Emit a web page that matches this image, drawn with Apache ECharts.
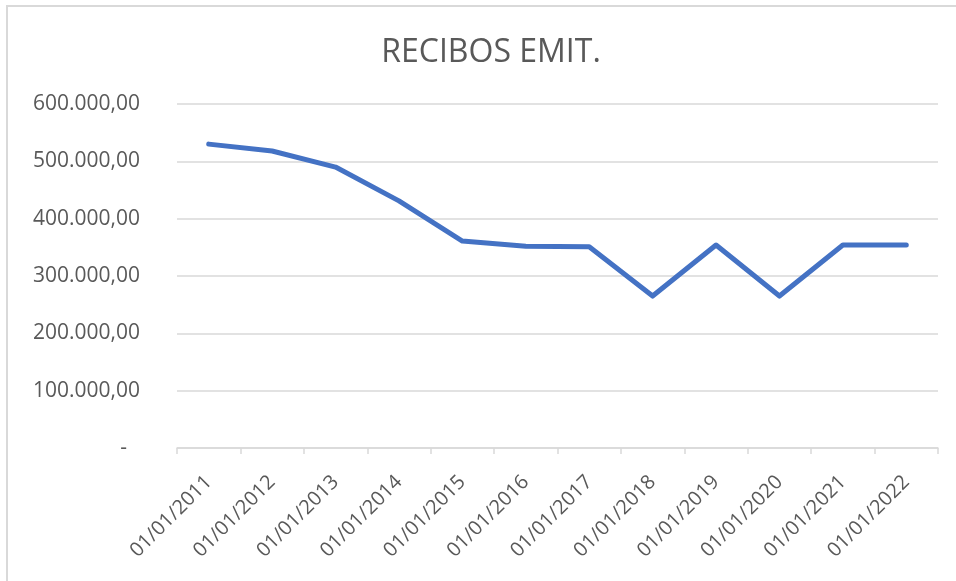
<!DOCTYPE html>
<html><head><meta charset="utf-8">
<script src="https://cdn.jsdelivr.net/npm/echarts@6/dist/echarts.min.js"></script>
<style>html,body{margin:0;padding:0;background:#fff}#c{width:956px;height:581px}</style>
</head><body><div id="c"></div>
<script>
const title = 'RECIBOS EMIT.';
const categories = ['01/01/2011','01/01/2012','01/01/2013','01/01/2014','01/01/2015','01/01/2016','01/01/2017','01/01/2018','01/01/2019','01/01/2020','01/01/2021','01/01/2022'];
const values = [530000, 518000, 490000, 431000, 361000, 352000, 351000, 265000, 354000, 265000, 354000, 354000];
const yTicks = [0, 100000, 200000, 300000, 400000, 500000, 600000];

function fmt(v){
  if (v === 0) return '{d|-}';
  return v.toString().replace(/\B(?=(\d{3})+(?!\d))/g,'.') + ',00';
}
const chart = echarts.init(document.getElementById('c'));
chart.setOption({
  animation:false,
  backgroundColor:'#fff',
  title:{text:title,left:486,top:32,textAlign:'center',textStyle:{fontFamily:'Open Sans',fontWeight:'normal',fontSize:32,color:'#595959'}},
  graphic:[{type:'rect',shape:{x:7,y:6,width:1000,height:700},style:{fill:'none',stroke:'#d9d9d9',lineWidth:2},silent:true}],
  grid:{left:177,right:18,top:104,bottom:133,containLabel:false},
  xAxis:{type:'category',data:categories,boundaryGap:true,
    axisLine:{lineStyle:{color:'#d9d9d9',width:1.5}},
    axisTick:{show:true,length:6,lineStyle:{color:'#d9d9d9',width:1.5}},
    axisLabel:{rotate:45,interval:0,color:'#595959',fontFamily:'Open Sans',fontSize:20,margin:31}},
  yAxis:{type:'value',min:yTicks[0],max:yTicks[yTicks.length-1],interval:100000,
    axisLine:{show:false},axisTick:{show:false},
    splitLine:{lineStyle:{color:'#d9d9d9',width:1.5}},
    axisLabel:{formatter:fmt,color:'#595959',fontFamily:'Open Sans',fontSize:21,margin:37,
      rich:{d:{fontFamily:'Open Sans',fontSize:21,color:'#595959',padding:[0,13,0,0]}}}},
  series:[{type:'line',data:values,symbol:'none',smooth:false,
    lineStyle:{color:'#4472c4',width:5,cap:'round',join:'round'}}]
});
</script></body></html>
